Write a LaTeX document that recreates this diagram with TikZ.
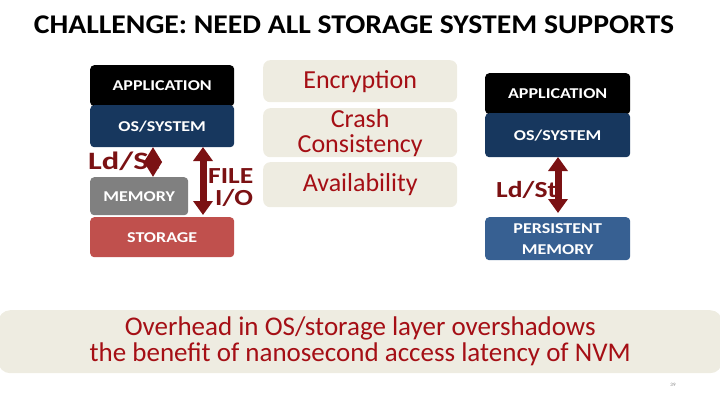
\documentclass[tikz,border=0pt]{standalone}
\usepackage{fontspec}
\setmainfont{Carlito}
\newfontfamily\widefont{Carlito}[FakeStretch=1.2]
\newfontfamily\widerfont{Carlito}[FakeStretch=1.3]
\newfontfamily\titlefont{Carlito}[FakeStretch=1.1]
\usetikzlibrary{arrows.meta}
\definecolor{appblk}{HTML}{000000}
\definecolor{osblue}{HTML}{17375E}
\definecolor{memgray}{HTML}{808080}
\definecolor{storred}{HTML}{C0504D}
\definecolor{pmblue}{HTML}{376092}
\definecolor{beige}{HTML}{EEECE1}
\definecolor{txtred}{HTML}{A50F15}
\definecolor{arrred}{HTML}{7B1113}
\tikzset{
  layer/.style={rounded corners=4pt, text=white, font=\widefont\bfseries\fontsize{15}{17}\selectfont, align=center, inner sep=0pt},
  feat/.style={rounded corners=7pt, fill=beige, text=txtred, font=\fontsize{26}{25}\selectfont, align=center, inner sep=0pt},
  lbl/.style={text=arrred, font=\widefont\bfseries\fontsize{23}{24}\selectfont, inner sep=0pt},
  dbl/.style={draw=arrred, line width=7pt, {Triangle[width=19pt,length=14pt]}-{Triangle[width=19pt,length=14pt]}},
}
\begin{document}
\begin{tikzpicture}[x=1pt,y=-1pt]
\useasboundingbox (0,0) rectangle (720,405);
% title
\node[font=\titlefont\bfseries\fontsize{27}{30}\selectfont, anchor=center] (title) at (354,25) {CHALLENGE: NEED ALL STORAGE SYSTEM SUPPORTS};
% left stack
\node[layer, fill=appblk, minimum width=144pt, minimum height=41pt, anchor=north west] (app1) at (90,65) {APPLICATION};
\node[layer, fill=osblue, minimum width=144pt, minimum height=42pt, anchor=north west] (os1) at (90,105) {OS/SYSTEM};
\node[layer, fill=memgray, minimum width=98pt, minimum height=38pt, anchor=north west] (mem1) at (90,177) {MEMORY};
\node[layer, fill=storred, minimum width=144pt, minimum height=40pt, anchor=north west] (sto1) at (90,217) {STORAGE};
\node[lbl, font=\widerfont\bfseries\fontsize{25}{26}\selectfont, anchor=west] (ldst1) at (88,161) {Ld/St};
\coordinate (a1t) at (153,147);
\coordinate (a1b) at (153,177);
\draw[dbl, {Triangle[width=17pt,length=15pt]}-{Triangle[width=17pt,length=15pt]}] (a1t) -- (a1b);
\coordinate (a2t) at (203,147);
\coordinate (a2b) at (203,215);
\draw[dbl] (a2t) -- (a2b);
\node[lbl, anchor=west] (file) at (208,176) {FILE};
\node[lbl, anchor=west] (io) at (215,198) {I/O};
% middle features
\node[feat, minimum width=194pt, minimum height=42pt, anchor=north west] (enc) at (263,60) {Encryption};
\node[feat, minimum width=194pt, minimum height=49pt, anchor=north west] (crash) at (263,108) {Crash\\Consistency};
\node[feat, minimum width=194pt, minimum height=45pt, anchor=north west] (avail) at (263,162) {Availability};
% right stack
\node[layer, fill=appblk, minimum width=145pt, minimum height=41pt, anchor=north west] (app2) at (485,73) {APPLICATION};
\node[layer, fill=osblue, minimum width=145pt, minimum height=44pt, anchor=north west] (os2) at (485,113) {OS/SYSTEM};
\node[layer, fill=pmblue, minimum width=145pt, minimum height=43pt, anchor=north west, font=\widefont\bfseries\fontsize{15}{21}\selectfont] (pm) at (485,217) {PERSISTENT\\MEMORY};
\node[lbl, anchor=west] (ldst2) at (496,190) {Ld/St};
\coordinate (a3t) at (558,157);
\coordinate (a3b) at (558,213);
\draw[dbl] (a3t) -- (a3b);
% bottom
\node[feat, minimum width=724pt, minimum height=63pt, anchor=north west, rounded corners=12pt, font=\fontsize{27}{26}\selectfont] (overhead) at (-2,310) {Overhead in OS/storage layer overshadows\\the benefit of nanosecond access latency of NVM};
\node[font=\fontsize{5}{6}\selectfont, text=gray] (pg) at (673,385) {39};
\end{tikzpicture}
\end{document}
